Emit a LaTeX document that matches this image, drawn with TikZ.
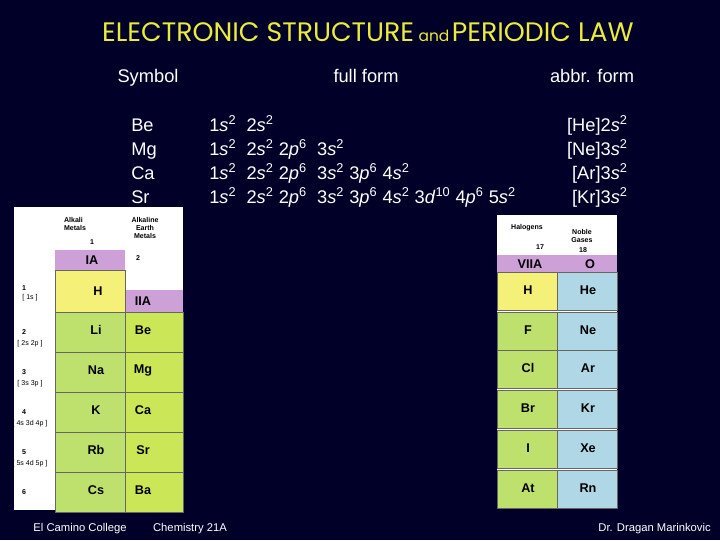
\documentclass[tikz,border=0pt]{standalone}
\usepackage{fontspec}
\setmainfont{Liberation Sans}
\newfontfamily\titlefont{Poppins}
\newcommand{\msup}[1]{\textsuperscript{#1}}
\newcommand{\sv}{\textit{s}}
\newcommand{\pv}{\textit{p}}
\newcommand{\dv}{\textit{d}}
\definecolor{bg}{RGB}{0,0,40}
\definecolor{ttl}{RGB}{235,235,60}
\definecolor{hdr}{RGB}{205,160,215}
\definecolor{hcell}{RGB}{245,240,120}
\definecolor{gcell}{RGB}{190,225,110}
\definecolor{ncell}{RGB}{175,215,230}
\begin{document}
\begin{tikzpicture}[x=0.025cm,y=-0.025cm,
  txt/.style={text=white,font=\fontsize{13}{15}\selectfont,inner sep=0},
  foot/.style={text=white,font=\fontsize{8}{9}\selectfont,inner sep=0},
  cell/.style={draw=black!60,line width=0.3pt},
  el/.style={font=\bfseries\fontsize{9}{10}\selectfont,inner sep=0},
  small/.style={font=\bfseries\fontsize{5}{6}\selectfont,inner sep=0,align=center}]
\fill[bg] (0,0) rectangle (720,540);
\node[text=ttl,inner sep=0] (title) at (368,32) {\titlefont\fontsize{19}{22}\selectfont ELECTRONIC STRUCTURE\,\fontsize{11}{12}\selectfont and\,\fontsize{19}{22}\selectfont PERIODIC LAW};
\node[txt,anchor=base] (h1) at (148,82) {Symbol};
\node[txt,anchor=base] (h2) at (366,82) {full form};
\node[txt,anchor=base] (h3) at (592,82) {abbr. form};
\node[txt,anchor=base west] (s1) at (131,131) {Be};
\node[txt,anchor=base west] (s2) at (131,155) {Mg};
\node[txt,anchor=base west] (s3) at (131,179) {Ca};
\node[txt,anchor=base west] (s4) at (131,203) {Sr};
\node[txt,anchor=base west] (f1) at (209,131) {1\sv\msup{2}\ \ 2\sv\msup{2}};
\node[txt,anchor=base west] (f2) at (209,155) {1\sv\msup{2}\ \ 2\sv\msup{2} 2\pv\msup{6} \ 3\sv\msup{2}};
\node[txt,anchor=base west] (f3) at (209,179) {1\sv\msup{2}\ \ 2\sv\msup{2} 2\pv\msup{6} \ 3\sv\msup{2} 3\pv\msup{6} 4\sv\msup{2}};
\node[txt,anchor=base west] (f4) at (209,203) {1\sv\msup{2}\ \ 2\sv\msup{2} 2\pv\msup{6} \ 3\sv\msup{2} 3\pv\msup{6} 4\sv\msup{2} 3\dv\msup{10} 4\pv\msup{6} 5\sv\msup{2}};
\node[txt,anchor=base east] (a1) at (628,131) {[He]2\sv\msup{2}};
\node[txt,anchor=base east] (a2) at (628,155) {[Ne]3\sv\msup{2}};
\node[txt,anchor=base east] (a3) at (628,179) {[Ar]3\sv\msup{2}};
\node[txt,anchor=base east] (a4) at (628,203) {[Kr]3\sv\msup{2}};
% left table image
\fill[white] (14,207) rectangle (183,510);
\node[small,align=left] (am) at (75,224) {Alkali\\Metals};
\node[small] (ae) at (145,228) {Alkaline\\Earth\\Metals};
\node[small] (n1) at (92,242) {1};
\node[small] (n2) at (138,258) {2};
\fill[hdr] (55,250) rectangle (125,270);
\node[el] (ia) at (92,260) {IA};
\fill[hdr] (125,290) rectangle (183,312);
\node[el] (iia) at (143,301) {IIA};
\fill[hcell] (55,270) rectangle (125,312);
\draw[cell] (55,270) rectangle (125,312);
\node[el] (H) at (98,291) {H};
\foreach \y/\a/\b/\p/\c in {312/Li/Be/2/{[ 2s 2p ]},352/Na/Mg/3/{[ 3s 3p ]},392/K/Ca/4/{[ 4s 3d 4p ]},432/Rb/Sr/5/{[ 5s 4d 5p ]},472/Cs/Ba/6/{}}{
  \fill[gcell] (55,\y) rectangle (125,\y+40);
  \fill[gcell!80!yellow] (125,\y) rectangle (183,\y+40);
  \draw[cell] (55,\y) rectangle (125,\y+40);
  \draw[cell] (125,\y) rectangle (183,\y+40);
  \node[el] at (96,\y+18) {\a};
  \node[el] at (143,\y+18) {\b};
  \node[small] at (24,\y+20) {\p};
  \node[small,font=\fontsize{5}{6}\selectfont] at (30,\y+32) {\c};
}
\node[small] (p1) at (24,288) {1};
\node[small,font=\fontsize{5}{6}\selectfont] (p1b) at (30,298) {[ 1s ]};
% right table image
\fill[white] (497,215) rectangle (617,503);
\node[small] (hal) at (527,228) {Halogens};
\node[small] (ng) at (582,236) {Noble\\Gases};
\node[small] (n17) at (540,247) {17};
\node[small] (n18) at (583,250) {18};
\fill[hdr] (497,255) rectangle (617,272);
\node[el] (v7) at (530,264) {VIIA};
\node[el] (o) at (590,264) {O};
\foreach \y/\a/\b in {272/H/He,312/F/Ne,350/Cl/Ar,390/Br/Kr,430/I/Xe,470/At/Rn}{
  \fill[gcell] (497,\y) rectangle (557,\y+38);
  \fill[ncell] (557,\y) rectangle (617,\y+38);
  \draw[cell] (497,\y) rectangle (557,\y+38);
  \draw[cell] (557,\y) rectangle (617,\y+38);
  \node[el] at (528,\y+18) {\a};
  \node[el] at (588,\y+18) {\b};
}
\fill[hcell] (497,272) rectangle (557,310);
\draw[cell] (497,272) rectangle (557,310);
\node[el] (H2) at (528,290) {H};
% footer
\node[foot] (ft1) at (80,529) {El Camino College};
\node[foot] (ft2) at (190,529) {Chemistry 21A};
\node[foot,anchor=east] (ft3) at (711,529) {Dr. Dragan Marinkovic};
\end{tikzpicture}
\end{document}
